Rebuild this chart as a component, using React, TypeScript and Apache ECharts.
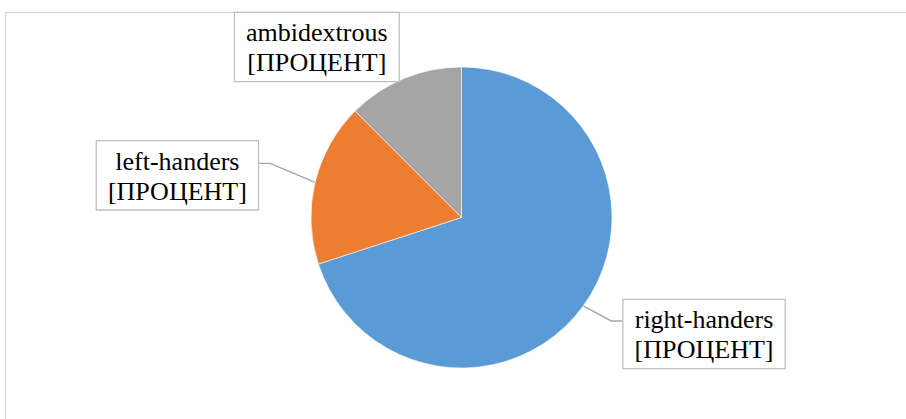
import React, { useEffect, useRef } from 'react';
import * as echarts from 'echarts';

// Handedness shares, drawn clockwise from 12 o'clock
const categories = ['right-handers', 'left-handers', 'ambidextrous'];
const shares = [70, 17.5, 12.5];
const valueTexts = ['[ПРОЦЕНТ]', '[ПРОЦЕНТ]', '[ПРОЦЕНТ]'];
const sliceColors = ['#5B9BD5', '#ED7D31', '#A5A5A5'];

const FONT = 'Liberation Serif, Times New Roman, serif';

export default function App() {
  const ref = useRef<HTMLDivElement>(null);

  useEffect(() => {
    if (!ref.current) return;
    const chart = echarts.init(ref.current, null, { renderer: 'svg' });

    const data = categories.map((name, i) => ({
      name,
      value: shares[i],
      itemStyle: { color: sliceColors[i] },
    }));

    chart.setOption({
      animation: false,
      backgroundColor: '#ffffff',
      textStyle: { fontFamily: FONT },
      graphic: [
        {
          type: 'rect',
          z: -10,
          silent: true,
          shape: { x: 5.5, y: 12.5, width: 1000, height: 1000 },
          style: { fill: 'none', stroke: '#d9d9d9', lineWidth: 1.3 },
        },
      ],
      series: [
        {
          type: 'pie',
          center: [461.5, 217.5],
          radius: 150.5,
          startAngle: 90,
          clockwise: true,
          avoidLabelOverlap: false,
          itemStyle: { borderColor: '#ffffff', borderWidth: 0.6 },
          label: {
            show: true,
            position: 'outside',
            formatter: (p: any) => `${p.name}\n${valueTexts[p.dataIndex]}`,
            fontFamily: FONT,
            fontSize: 26,
            lineHeight: 30,
            color: '#000000',
            align: 'center',
            backgroundColor: '#ffffff',
            borderColor: '#bfbfbf',
            borderWidth: 1.3,
            padding: [5, 11, 3, 11],
          },
          labelLine: {
            show: true,
            length: 30,
            length2: 10,
            smooth: false,
            lineStyle: { color: '#a6a6a6', width: 1.4 },
          },
          labelLayout: (params: any) => {
            const i = params.dataIndex;
            const w = params.labelRect.width;
            const pts = params.labelLinePoints;
            if (!pts) return {};
            const p0: number[] = pts[0];
            if (i === 0) {
              // callout to the lower right
              const bend = [p0[0] + 28, p0[1] + 15];
              const edgeX = bend[0] + 11;
              return {
                x: edgeX + w / 2,
                y: bend[1] - 21,
                align: 'center',
                verticalAlign: 'top',
                labelLinePoints: [p0, bend, [edgeX, bend[1]]],
              };
            }
            if (i === 1) {
              // callout to the left
              const bend = [p0[0] - 45, p0[1] - 19];
              const edgeX = bend[0] - 11;
              return {
                x: edgeX - w / 2,
                y: bend[1] - 22,
                align: 'center',
                verticalAlign: 'top',
                labelLinePoints: [p0, bend, [edgeX, bend[1]]],
              };
            }
            // box sits right on the slice edge, no leader
            return {
              x: p0[0] - 4 - w / 2,
              y: p0[1] + 2.5,
              align: 'center',
              verticalAlign: 'bottom',
              labelLinePoints: [p0, p0, p0],
            };
          },
          data,
        },
      ],
    });

    return () => chart.dispose();
  }, []);

  return (
    <div
      ref={ref}
      style={{ position: 'absolute', left: 0, top: 0, width: 906, height: 419 }}
    />
  );
}
